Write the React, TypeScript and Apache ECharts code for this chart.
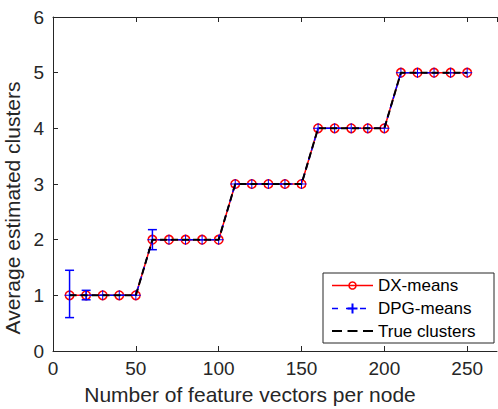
import React, { useEffect, useRef } from "react";
import * as echarts from "echarts";

const xValues = [10, 20, 30, 40, 50, 60, 70, 80, 90, 100, 110, 120, 130, 140, 150, 160, 170, 180, 190, 200, 210, 220, 230, 240, 250];
const dxMeans = [1, 1, 1, 1, 1, 2, 2, 2, 2, 2, 3, 3, 3, 3, 3, 4, 4, 4, 4, 4, 5, 5, 5, 5, 5];
const dpgMeans = [1, 1, 1, 1, 1, 2, 2, 2, 2, 2, 3, 3, 3, 3, 3, 4, 4, 4, 4, 4, 5, 5, 5, 5, 5];
const trueClusters = [1, 1, 1, 1, 1, 2, 2, 2, 2, 2, 3, 3, 3, 3, 3, 4, 4, 4, 4, 4, 5, 5, 5, 5, 5];
const errX = [10, 20, 60];
const errLow = [0.6, 0.92, 1.82];
const errHigh = [1.45, 1.09, 2.18];
const legendNames = ["DX-means", "DPG-means", "True clusters"];

const FONT = "Liberation Sans, Arial, Helvetica, sans-serif";
const AX = "#262626";
const PLUS = "path://M-0.1,-1H0.1V-0.1H1V0.1H0.1V1H-0.1V0.1H-1V-0.1H-0.1Z";

export default function App() {
  const ref = useRef<HTMLDivElement>(null);
  useEffect(() => {
    const chart = echarts.init(ref.current!, null, { renderer: "svg" });
    const pair = (ys: number[]) => xValues.map((x, i) => [x, ys[i]]);
    const lx = 332, tx = 378, rows = [285.5, 308.5, 331];
    chart.setOption({
      animation: false,
      backgroundColor: "#fff",
      grid: { left: 53, right: 1, top: 17, bottom: 58, containLabel: false, outerBoundsMode: "none" },
      xAxis: [
        {
          type: "value", min: 0, max: 268, interval: 50, position: "bottom",
          name: "Number of feature vectors per node", nameLocation: "middle", nameGap: 33,
          nameTextStyle: { fontFamily: FONT, fontSize: 21, color: AX, padding: [0, 50, 0, 0] },
          axisLine: { show: true, lineStyle: { color: AX, width: 1 } },
          axisTick: { show: true, inside: true, length: 5, lineStyle: { color: AX } },
          axisLabel: { fontFamily: FONT, fontSize: 19, color: AX, margin: 8, showMaxLabel: false },
          splitLine: { show: false },
        },
        {
          type: "value", min: 0, max: 268, interval: 50, position: "top",
          axisLine: { show: true, lineStyle: { color: AX, width: 1 } },
          axisTick: { show: true, inside: true, length: 5, lineStyle: { color: AX } },
          axisLabel: { show: false }, splitLine: { show: false },
        },
      ],
      yAxis: [
        {
          type: "value", min: 0, max: 6, interval: 1,
          name: "Average estimated clusters", nameLocation: "middle", nameGap: 22,
          nameTextStyle: { fontFamily: FONT, fontSize: 21, color: AX, padding: [0, 48, 0, 0] },
          axisLine: { show: true, lineStyle: { color: AX, width: 1 } },
          axisTick: { show: true, inside: true, length: 5, lineStyle: { color: AX } },
          axisLabel: { fontFamily: FONT, fontSize: 19, color: AX, margin: 9 },
          splitLine: { show: false },
        },
      ],
      series: [
        {
          name: legendNames[0], type: "line", data: pair(dxMeans), z: 2,
          symbol: "circle", symbolSize: 8.5,
          itemStyle: { color: "none", borderColor: "#ff0000", borderWidth: 1.5 },
          lineStyle: { color: "#ff0000", width: 1.5 },
        },
        {
          name: legendNames[1], type: "line", data: pair(dpgMeans), z: 3,
          symbol: PLUS, symbolSize: 10,
          itemStyle: { color: "#0000ff" },
          lineStyle: { color: "#0000ff", width: 1.5, type: [6, 4] },
        },
        {
          name: "err", type: "custom", z: 3,
          data: errX.map((x, i) => [x, errLow[i], errHigh[i]]),
          renderItem: (params: any, api: any) => {
            const lo = api.coord([api.value(0), api.value(1)]);
            const hi = api.coord([api.value(0), api.value(2)]);
            const w = 4.5;
            const st = { stroke: "#0000ff", lineWidth: 1.5 };
            return {
              type: "group",
              children: [
                { type: "line", shape: { x1: lo[0], y1: lo[1], x2: hi[0], y2: hi[1] }, style: st },
                { type: "line", shape: { x1: lo[0] - w, y1: lo[1], x2: lo[0] + w, y2: lo[1] }, style: st },
                { type: "line", shape: { x1: hi[0] - w, y1: hi[1], x2: hi[0] + w, y2: hi[1] }, style: st },
              ],
            };
          },
        },
        {
          name: legendNames[2], type: "line", data: pair(trueClusters), z: 4,
          symbol: "none",
          lineStyle: { color: "#000000", width: 2, type: [7, 4] },
        },
      ],
      graphic: [
        {
          type: "rect", shape: { x: 323, y: 273, width: 171, height: 70 }, z: 100,
          style: { fill: "#fff", stroke: AX, lineWidth: 1 },
        },
        { type: "line", z: 101, shape: { x1: lx, y1: rows[0], x2: 373, y2: rows[0] }, style: { stroke: "#ff0000", lineWidth: 1.5 } },
        { type: "circle", z: 102, shape: { cx: 352.5, cy: rows[0], r: 3.5 }, style: { fill: "none", stroke: "#ff0000", lineWidth: 1.5 } },
        { type: "line", z: 101, shape: { x1: lx, y1: rows[1], x2: 373, y2: rows[1] }, style: { stroke: "#0000ff", lineWidth: 1.5, lineDash: [6, 8], lineDashOffset: 0 } },
        { type: "line", z: 102, shape: { x1: 352.5, y1: rows[1] - 5, x2: 352.5, y2: rows[1] + 5 }, style: { stroke: "#0000ff", lineWidth: 2 } },
        { type: "line", z: 102, shape: { x1: 347.5, y1: rows[1], x2: 357.5, y2: rows[1] }, style: { stroke: "#0000ff", lineWidth: 2 } },
        { type: "line", z: 101, shape: { x1: lx, y1: rows[2], x2: 373, y2: rows[2] }, style: { stroke: "#000000", lineWidth: 2, lineDash: [10, 5.5] } },
        ...legendNames.map((n, i) => ({
          type: "text", z: 102, x: tx, y: rows[i],
          style: { text: n, fontFamily: FONT, fontSize: 17, fill: "#000", verticalAlign: "middle" },
        })),
      ],
    });
    return () => chart.dispose();
  }, []);
  return <div ref={ref} style={{ width: 498, height: 409, position: "absolute", left: 0, top: 0 }} />;
}
